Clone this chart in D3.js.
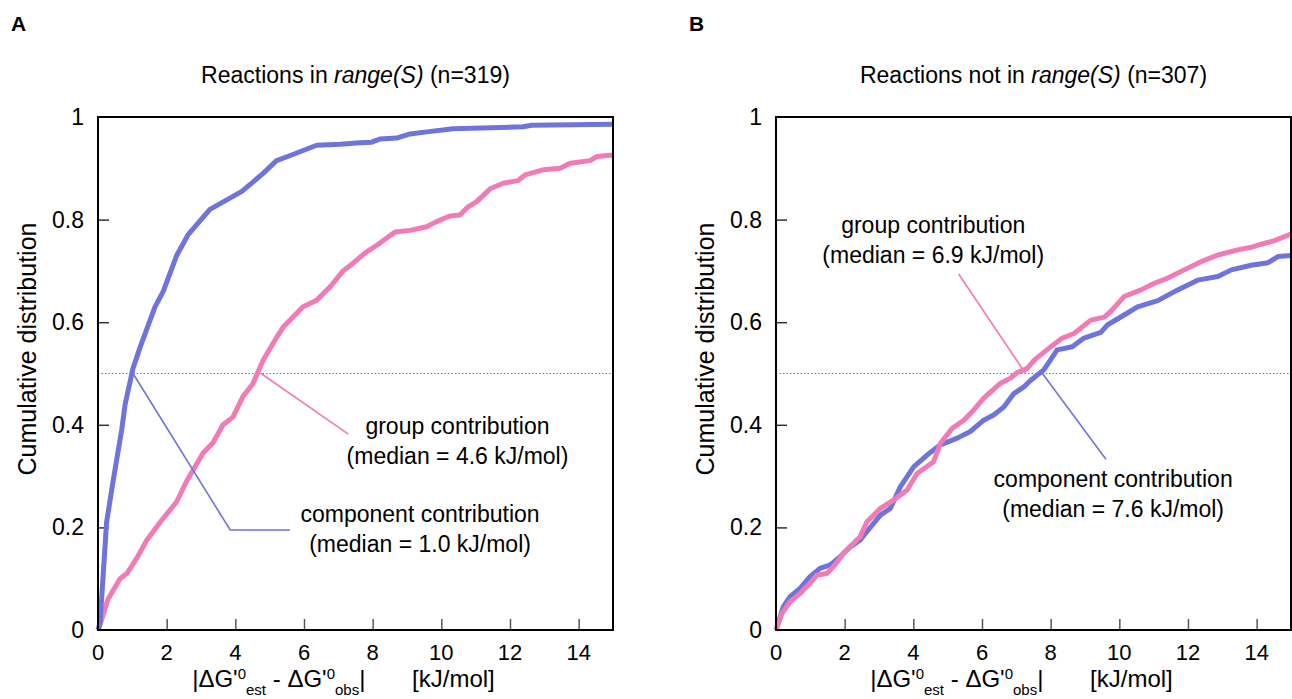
<!DOCTYPE html>
<html>
<head>
<meta charset="utf-8">
<script src="https://cdn.jsdelivr.net/npm/d3@7"></script>
<style>
  body { margin: 0; background: #fff; }
  text { font-family: "Liberation Sans", Arial, sans-serif; fill: #000; }
</style>
</head>
<body>
<div id="chart"></div>
<script>
// cumulative distributions (x in kJ/mol, y = fraction)
const aCompX = [0, 0.06, 0.25, 0.44, 0.69, 0.79, 1.02, 1.22, 1.66, 1.9, 2.29, 2.62, 3.26, 3.79, 4.19, 4.81, 5.2, 5.6, 6.37, 7.05, 7.63, 7.97, 8.21, 8.7, 9.09, 9.57, 10.34, 12.38, 12.63, 15];
const aCompY = [0, 0.014, 0.21, 0.29, 0.39, 0.44, 0.51, 0.55, 0.63, 0.66, 0.73, 0.77, 0.82, 0.84, 0.855, 0.89, 0.915, 0.925, 0.945, 0.947, 0.95, 0.951, 0.957, 0.959, 0.967, 0.971, 0.977, 0.981, 0.984, 0.986];

const aGroupX = [0, 0.06, 0.29, 0.64, 0.84, 1.13, 1.42, 1.81, 2.29, 2.58, 3.06, 3.35, 3.64, 3.93, 4.22, 4.51, 4.81, 5.2, 5.39, 5.97, 6.37, 6.76, 7.14, 7.43, 7.78, 8.12, 8.65, 9.09, 9.57, 9.86, 10.25, 10.54, 10.78, 11.03, 11.42, 11.8, 12.23, 12.44, 12.96, 13.46, 13.75, 14.33, 14.53, 15];
const aGroupY = [0, 0.01, 0.06, 0.1, 0.11, 0.14, 0.175, 0.21, 0.25, 0.29, 0.345, 0.365, 0.4, 0.415, 0.455, 0.48, 0.526, 0.57, 0.59, 0.63, 0.643, 0.669, 0.7, 0.715, 0.735, 0.75, 0.776, 0.779, 0.786, 0.796, 0.807, 0.809, 0.825, 0.835, 0.86, 0.871, 0.876, 0.887, 0.897, 0.9, 0.91, 0.915, 0.923, 0.926];

const bCompX = [0, 0.21, 0.41, 0.7, 0.99, 1.28, 1.58, 1.87, 2.16, 2.45, 2.65, 3.04, 3.33, 3.62, 4.01, 4.4, 4.79, 5.28, 5.66, 6.05, 6.34, 6.64, 6.93, 7.22, 7.42, 7.8, 8.19, 8.63, 8.97, 9.46, 9.66, 10.14, 10.53, 11.12, 11.7, 12.28, 12.87, 13.26, 13.84, 14.33, 14.62, 15];
const bCompY = [0, 0.045, 0.065, 0.081, 0.104, 0.12, 0.127, 0.143, 0.162, 0.175, 0.192, 0.224, 0.237, 0.279, 0.318, 0.341, 0.361, 0.374, 0.387, 0.409, 0.419, 0.435, 0.461, 0.474, 0.487, 0.507, 0.546, 0.552, 0.569, 0.58, 0.595, 0.614, 0.63, 0.642, 0.663, 0.682, 0.689, 0.702, 0.711, 0.716, 0.728, 0.73];

const bGroupX = [0, 0.17, 0.41, 0.7, 0.99, 1.19, 1.48, 1.72, 1.97, 2.26, 2.45, 2.65, 3.04, 3.42, 3.82, 4.11, 4.59, 4.79, 5.13, 5.47, 5.76, 6.05, 6.54, 6.83, 7.03, 7.32, 7.52, 8.0, 8.34, 8.68, 9.17, 9.56, 9.75, 10.14, 10.63, 11.02, 11.41, 11.89, 12.38, 12.87, 13.45, 13.84, 14.13, 14.52, 15];
const bGroupY = [0, 0.032, 0.055, 0.071, 0.091, 0.107, 0.11, 0.127, 0.15, 0.169, 0.182, 0.211, 0.237, 0.253, 0.273, 0.305, 0.328, 0.364, 0.393, 0.409, 0.429, 0.452, 0.481, 0.491, 0.502, 0.51, 0.526, 0.552, 0.569, 0.578, 0.604, 0.61, 0.621, 0.65, 0.663, 0.676, 0.686, 0.702, 0.718, 0.731, 0.741, 0.746, 0.752, 0.759, 0.772];

const xTicks = [0, 2, 4, 6, 8, 10, 12, 14];
const yTicks = [0, 0.2, 0.4, 0.6, 0.8, 1];
const yTickLabels = ["0", "0.2", "0.4", "0.6", "0.8", "1"];

// leader lines (data coords) and label anchors
const aCompLeader = [[1.02, 0.5], [3.85, 0.195], [5.59, 0.195]];
const aGroupLeader = [[4.75, 0.5], [7.29, 0.382]];
const bGroupLeader = [[7.27, 0.5], [5.32, 0.694]];
const bCompLeader = [[7.76, 0.5], [9.61, 0.333]];

const aCompLabel = [9.38, 0.211, "(median = 1.0 kJ/mol)"];
const aGroupLabel = [10.47, 0.382, "(median = 4.6 kJ/mol)"];
const bGroupLabel = [4.58, 0.774, "(median = 6.9 kJ/mol)"];
const bCompLabel = [9.82, 0.279, "(median = 7.6 kJ/mol)"];

const blue = "#6f74dd";
const pink = "#f27bb6";

const width = 1292, height = 699;
const svg = d3.select("#chart").append("svg")
    .attr("width", width)
    .attr("height", height);

function drawPanel(p) {
    const x = d3.scaleLinear().domain([0, 15]).range([p.left, p.left + 515]);
    const y = d3.scaleLinear().domain([0, 1]).range([630, 117]);
    const g = svg.append("g");

    // panel letter + title
    g.append("text").attr("x", p.left - 87).attr("y", 31)
        .style("font-size", "21px").style("font-weight", "bold").text(p.letter);
    const t = g.append("text").attr("x", x(7.5)).attr("y", 83)
        .attr("text-anchor", "middle").style("font-size", "23px");
    t.append("tspan").text(p.title[0]);
    t.append("tspan").style("font-style", "italic").text(p.title[1]);
    t.append("tspan").text(p.title[2]);

    // inward ticks
    g.append("g").attr("transform", `translate(0,${y(0)})`)
        .call(d3.axisTop(x).tickValues(xTicks.slice(1)).tickSize(11).tickFormat(""))
        .call(s => s.select(".domain").remove())
        .selectAll("line").attr("stroke", "#555").attr("stroke-width", 1.5);
    g.append("g").attr("transform", `translate(${x(0)},0)`)
        .call(d3.axisRight(y).tickValues(yTicks.slice(1, -1)).tickSize(11).tickFormat(""))
        .call(s => s.select(".domain").remove())
        .selectAll("line").attr("stroke", "#333").attr("stroke-width", 1.5);

    // tick labels
    g.selectAll(".xl").data(xTicks).enter().append("text")
        .attr("x", d => x(d)).attr("y", 660)
        .attr("text-anchor", "middle").style("font-size", "22px").text(d => d);
    g.selectAll(".yl").data(yTicks).enter().append("text")
        .attr("x", x(0) - 14).attr("y", d => y(d) + 8)
        .attr("text-anchor", "end").style("font-size", "23px")
        .text((d, i) => yTickLabels[i]);

    // axis titles
    g.append("text")
        .attr("transform", `translate(${p.left - 62},349) rotate(-90)`)
        .attr("text-anchor", "middle").style("font-size", "25px")
        .text("Cumulative distribution");
    const xl = g.append("text").attr("x", x(7.15)).attr("y", 687)
        .attr("text-anchor", "middle").style("font-size", "24px");
    xl.append("tspan").text("|\u0394G'");
    xl.append("tspan").attr("dy", -8).style("font-size", "15px").text("0");
    xl.append("tspan").attr("dy", 16).style("font-size", "15px").text("est");
    xl.append("tspan").attr("dy", -8).text(" - \u0394G'");
    xl.append("tspan").attr("dy", -8).style("font-size", "15px").text("0");
    xl.append("tspan").attr("dy", 16).style("font-size", "15px").text("obs");
    xl.append("tspan").attr("dy", -8).text("|\u00a0\u00a0\u00a0\u00a0\u00a0\u00a0\u00a0[kJ/mol]");

    // median reference line
    g.append("line")
        .attr("x1", x(0)).attr("x2", x(15)).attr("y1", y(0.5)).attr("y2", y(0.5))
        .attr("stroke", "#777").attr("stroke-width", 1).attr("stroke-dasharray", "1.5,2");

    // curves
    const line = d3.line().x(d => x(d[0])).y(d => y(d[1]));
    p.series.forEach(s => {
        g.append("path")
            .datum(s.xs.map((v, i) => [v, s.ys[i]]))
            .attr("fill", "none").attr("stroke", s.color)
            .attr("stroke-width", 5).attr("stroke-linejoin", "round")
            .attr("d", line);
    });

    // annotations
    p.notes.forEach(n => {
        g.append("path").datum(n.leader)
            .attr("fill", "none").attr("stroke", n.color).attr("stroke-width", 1.6)
            .attr("d", line);
        const lbl = g.append("text").attr("text-anchor", "middle").style("font-size", "23px");
        lbl.append("tspan").attr("x", x(n.label[0])).attr("y", y(n.label[1])).text(n.name);
        lbl.append("tspan").attr("x", x(n.label[0])).attr("dy", 30).text(n.label[2]);
    });

    // frame
    g.append("rect")
        .attr("x", x(0)).attr("y", y(1))
        .attr("width", x(15) - x(0)).attr("height", y(0) - y(1))
        .attr("fill", "none").attr("stroke", "#000").attr("stroke-width", 2);
}

drawPanel({
    left: 98, letter: "A",
    title: ["Reactions in ", "range(S)", " (n=319)"],
    series: [
        { xs: aGroupX, ys: aGroupY, color: pink },
        { xs: aCompX, ys: aCompY, color: blue }
    ],
    notes: [
        { leader: aCompLeader, color: blue, label: aCompLabel, name: "component contribution" },
        { leader: aGroupLeader, color: pink, label: aGroupLabel, name: "group contribution" }
    ]
});

drawPanel({
    left: 776, letter: "B",
    title: ["Reactions not in ", "range(S)", " (n=307)"],
    series: [
        { xs: bCompX, ys: bCompY, color: blue },
        { xs: bGroupX, ys: bGroupY, color: pink }
    ],
    notes: [
        { leader: bGroupLeader, color: pink, label: bGroupLabel, name: "group contribution" },
        { leader: bCompLeader, color: blue, label: bCompLabel, name: "component contribution" }
    ]
});
</script>
</body>
</html>
